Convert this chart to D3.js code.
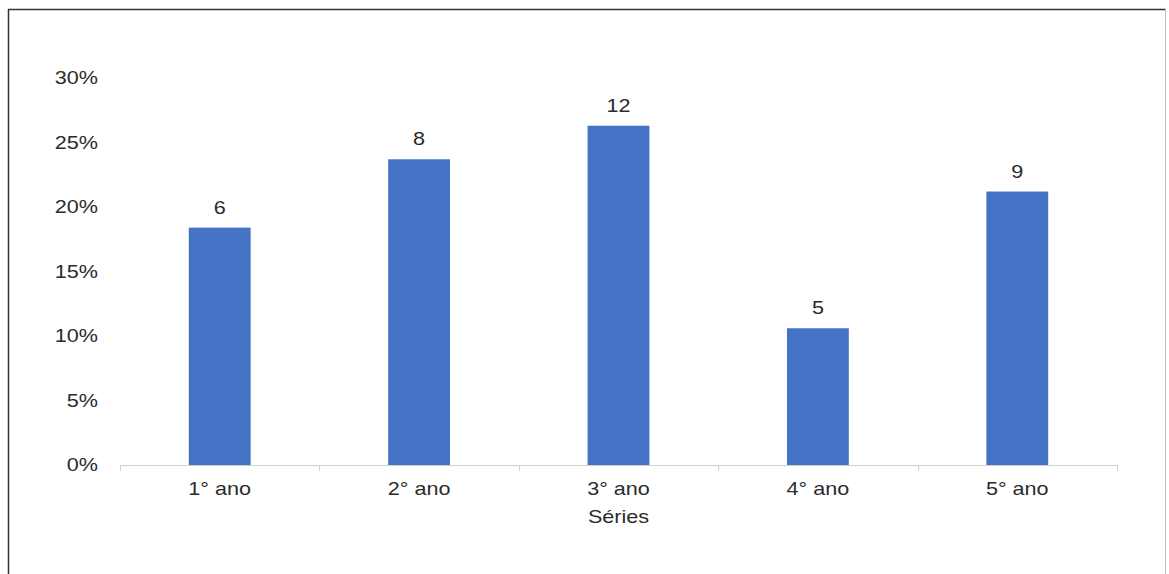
<!DOCTYPE html>
<html>
<head>
<meta charset="utf-8">
<script src="https://cdn.jsdelivr.net/npm/d3@7/dist/d3.min.js"></script>
<style>
  html, body { margin: 0; padding: 0; background: #fff; }
  svg { display: block; }
  text { font-family: "Liberation Sans", Arial, sans-serif; fill: #2b2b2b; }
</style>
</head>
<body>
<svg id="chart" width="1169" height="574"></svg>
<script>
// Share of students per school year (bar height) and head count (label on top)
const categories = ["1° ano", "2° ano", "3° ano", "4° ano", "5° ano"];
const shares = [18.4, 23.7, 26.3, 10.6, 21.2];
const counts = [6, 8, 12, 5, 9];
const yTicks = [0, 5, 10, 15, 20, 25, 30];
const xTitle = "Séries";

const svg = d3.select("#chart");
const plot = { left: 120, right: 1117, top: 78, bottom: 465 };

// outer frame: dark left/top edges, faint right edge
svg.append("line").attr("x1", 8.5).attr("x2", 8.5).attr("y1", 9).attr("y2", 574)
  .attr("stroke", "#333").attr("stroke-width", 1.5);
svg.append("line").attr("x1", 8).attr("x2", 1166).attr("y1", 9.5).attr("y2", 9.5)
  .attr("stroke", "#333").attr("stroke-width", 1.5);
svg.append("line").attr("x1", 1165.5).attr("x2", 1165.5).attr("y1", 9).attr("y2", 574)
  .attr("stroke", "#bdbdbd").attr("stroke-width", 1);

const x = d3.scaleBand()
  .domain(categories)
  .range([plot.left, plot.right])
  .paddingInner(0.69)
  .paddingOuter(0.345);

const y = d3.scaleLinear()
  .domain([0, 30])
  .range([plot.bottom, plot.top]);

const stretch = 1.2;
const fontSize = "18px";

// y-axis labels (no axis line)
const yAxis = svg.append("g")
  .attr("transform", `translate(${plot.left},0)`)
  .call(d3.axisLeft(y).tickValues(yTicks).tickFormat(d => d + "%").tickSize(0).tickPadding(22));
yAxis.select(".domain").remove();
yAxis.selectAll("text")
  .style("font-size", fontSize).style("font-family", null).attr("fill", "#2b2b2b")
  .attr("transform", function () {
    const tx = +d3.select(this).attr("x");
    return `translate(${tx},0) scale(${stretch},1) translate(${-tx},0)`;
  });

// bars
svg.append("g").selectAll("rect")
  .data(categories)
  .join("rect")
  .attr("x", d => x(d))
  .attr("width", x.bandwidth())
  .attr("y", (d, i) => y(shares[i]))
  .attr("height", (d, i) => y(0) - y(shares[i]))
  .attr("fill", "#4472c4");

// baseline with category boundary ticks
const bounds = d3.range(categories.length + 1)
  .map(i => plot.left + i * (plot.right - plot.left) / categories.length);
svg.append("line")
  .attr("x1", plot.left).attr("x2", plot.right)
  .attr("y1", plot.bottom + 0.5).attr("y2", plot.bottom + 0.5)
  .attr("stroke", "#d0d0d0").attr("stroke-width", 1);
svg.append("g").selectAll("line")
  .data(bounds)
  .join("line")
  .attr("x1", d => Math.round(d) + 0.5).attr("x2", d => Math.round(d) + 0.5)
  .attr("y1", plot.bottom).attr("y2", plot.bottom + 6)
  .attr("stroke", "#d0d0d0").attr("stroke-width", 1);

// category labels
svg.append("g").selectAll("text")
  .data(categories)
  .join("text")
  .attr("text-anchor", "middle")
  .attr("transform", d => `translate(${x(d) + x.bandwidth() / 2},${plot.bottom + 30}) scale(${stretch},1)`)
  .style("font-size", fontSize)
  .text(d => d);

// value labels
svg.append("g").selectAll("text")
  .data(categories)
  .join("text")
  .attr("text-anchor", "middle")
  .attr("transform", (d, i) => `translate(${x(d) + x.bandwidth() / 2},${y(shares[i]) - 14}) scale(${stretch},1)`)
  .style("font-size", fontSize)
  .text((d, i) => counts[i]);

// x-axis title
svg.append("text")
  .attr("text-anchor", "middle")
  .attr("transform", `translate(${(plot.left + plot.right) / 2},${plot.bottom + 58}) scale(${stretch},1)`)
  .style("font-size", fontSize)
  .text(xTitle);
</script>
</body>
</html>
